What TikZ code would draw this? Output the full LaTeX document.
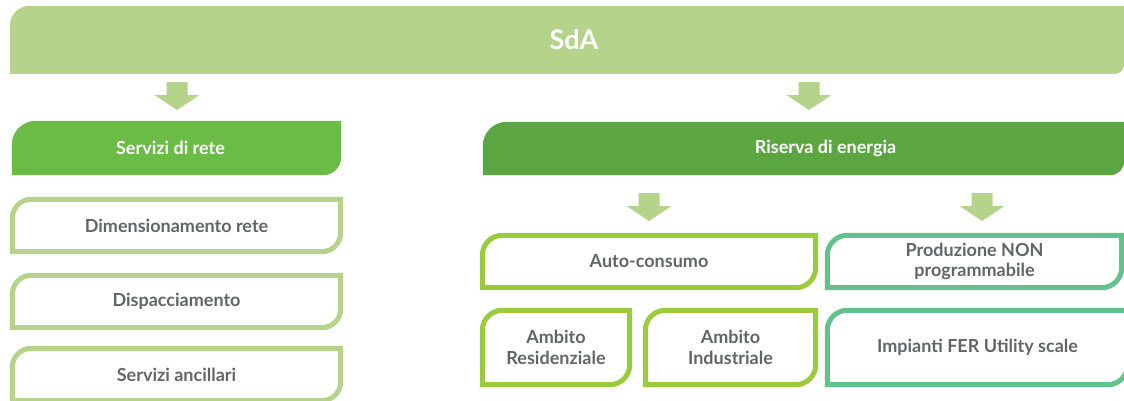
\documentclass[tikz,border=0pt]{standalone}
\usepackage{fontspec}
\setmainfont{Lato}
\usepackage{tikz}
\usetikzlibrary{backgrounds}

\definecolor{sdagreen}{HTML}{B5D38B}
\definecolor{retegreen}{HTML}{6BBB47}
\definecolor{riservagreen}{HTML}{5BA641}
\definecolor{autogreen}{HTML}{9BCB3C}
\definecolor{prodgreen}{HTML}{62C18D}
\definecolor{txtgrey}{HTML}{636466}

% box outline with rounded top-left and bottom-right corners
% #1 node, #2 top-left radius, #3 bottom-right radius
\newcommand{\leaf}[3]{(#1.south west) -- ([yshift=-#2]#1.north west)
	arc[start angle=180, end angle=90, radius=#2] -- (#1.north east)
	-- ([yshift=#3]#1.south east) arc[start angle=0, end angle=-90, radius=#3] -- cycle}

\tikzset{
	hdrtxt/.style={text=white, font=\fontsize{18}{21}\selectfont\bfseries},
	boxtxt/.style={text=txtgrey, font=\fontsize{18}{20.5}\selectfont\bfseries, align=center},
	blockarrow/.pic={
		\fill[sdagreen] (-10.5,0) -- (10.5,0) -- (10.5,13) -- (22.5,13)
			-- (0,28) -- (-22.5,13) -- (-10.5,13) -- cycle;
	}
}

\begin{document}
\begin{tikzpicture}[x=1pt, y=-1pt, inner sep=0pt]

\useasboundingbox (0,0) rectangle (1124,400);

% top bar
\node[minimum width=1114pt, minimum height=68pt,
	label={[hdrtxt, font=\fontsize{27}{30}\selectfont\bfseries, xshift=7pt]center:SdA}] (sda) at (567,40) {};

\pic at (177,82) {blockarrow};
\pic at (809,82) {blockarrow};

% branch headers
\node[minimum width=329pt, minimum height=54pt,
	label={[hdrtxt, xshift=-6pt]center:Servizi di rete}] (rete) at (176.5,148) {};
\node[minimum width=641pt, minimum height=53pt,
	label={[hdrtxt, xshift=22pt]center:Riserva di energia}] (riserva) at (803.5,148.5) {};

\pic at (649,193) {blockarrow};
\pic at (982,193) {blockarrow};

% network services
\node[boxtxt, minimum width=328pt, minimum height=52pt] (dim) at (176.5,225.5) {Dimensionamento rete};
\node[boxtxt, minimum width=328pt, minimum height=52pt] (disp) at (176.5,301.5) {Dispacciamento};
\node[boxtxt, minimum width=328pt, minimum height=52pt] (anc) at (176.5,374.5) {Servizi ancillari};

% energy reserve
\node[boxtxt, minimum width=333pt, minimum height=52pt] (auto) at (649,261.5) {Auto-consumo};
\node[boxtxt, minimum width=147pt, minimum height=74pt] (resid) at (556,347.5) {Ambito\\Residenziale};
\node[boxtxt, minimum width=170pt, minimum height=74pt] (indus) at (730.5,347.5) {Ambito\\Industriale};
\node[boxtxt, minimum width=294pt, minimum height=52pt] (prod) at (974.5,261.5) {Produzione NON\\programmabile};
\node[boxtxt, minimum width=300pt, minimum height=74pt] (imp) at (977.5,347.5) {Impianti FER Utility scale};

\begin{scope}[on background layer]
	\fill[sdagreen] \leaf{sda}{20pt}{10pt};
	\fill[retegreen] \leaf{rete}{24pt}{18pt};
	\fill[riservagreen] \leaf{riserva}{24pt}{14pt};
	\foreach \n in {dim, disp, anc}
		\draw[sdagreen, line width=5pt] \leaf{\n}{19pt}{19pt};
	\foreach \n in {auto, resid, indus}
		\draw[autogreen, line width=5pt] \leaf{\n}{20pt}{20pt};
	\foreach \n in {prod, imp}
		\draw[prodgreen, line width=5pt] \leaf{\n}{20pt}{20pt};
\end{scope}

\end{tikzpicture}
\end{document}
